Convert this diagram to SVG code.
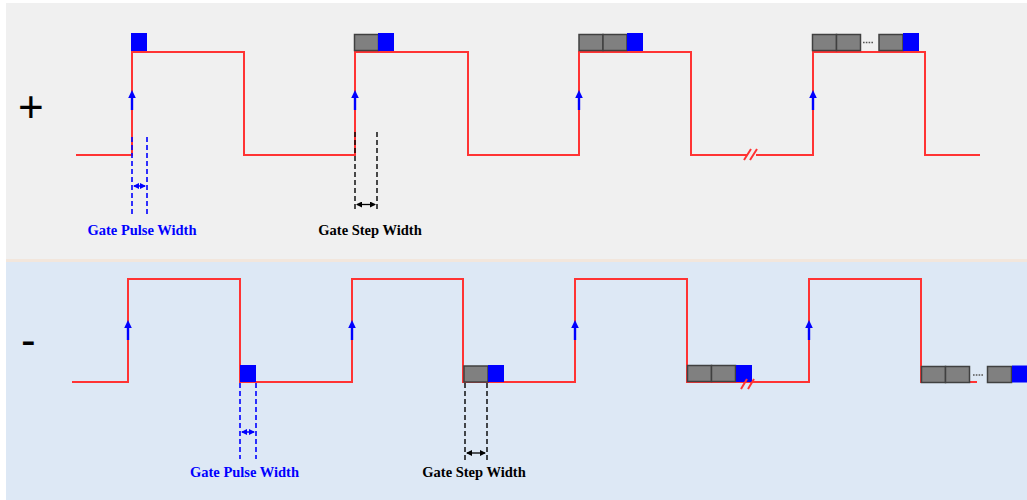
<svg xmlns="http://www.w3.org/2000/svg" width="1027" height="500" viewBox="0 0 1027 500">
<style>
.wave{fill:none;stroke:#ff3333;stroke-width:2}
.gray{fill:#808080;stroke:#404040;stroke-width:1.5}
.blue{fill:#0000ff}
.dashB{stroke:#0000ff;stroke-width:1.6;stroke-dasharray:5,3;fill:none}
.dashK{stroke:#000;stroke-width:1.4;stroke-dasharray:5,3;fill:none}
.lblB{font-family:"Liberation Serif",serif;font-weight:bold;font-size:14.5px;fill:#0000ff;text-anchor:middle}
.lblK{font-family:"Liberation Serif",serif;font-weight:bold;font-size:14.5px;fill:#000;text-anchor:middle}
.sign{font-family:"Liberation Sans",Arial,sans-serif;font-size:44px;fill:#000}
.dots{stroke:#555;stroke-width:1.5;stroke-dasharray:1.6,1.2}
</style>
<defs>
<marker id="dh" viewBox="0 0 6 6" refX="5" refY="3" markerWidth="6" markerHeight="6" markerUnits="userSpaceOnUse" orient="auto-start-reverse"><path d="M0,0 L6,3 L0,6 Z" fill="context-stroke"/></marker>
<g id="upArrow"><line x1="0" y1="20" x2="0" y2="6" stroke="#0000ff" stroke-width="2.4"/><path d="M-3.8,8 L0,0 L3.8,8 Z" fill="#0000ff"/></g>
</defs>
<rect x="0" y="0" width="1027" height="500" fill="#ffffff"/>
<rect x="6" y="3" width="1021" height="257" fill="#f0f0f0"/>
<rect x="6" y="259" width="1021" height="4" fill="#f2e6dc"/>
<rect x="6" y="262" width="1021" height="238" fill="#dde8f5"/>

<g id="plus-panel">
<text class="sign" x="18" y="122">+</text>
<g id="plus-wave">
<path class="wave" d="M76,155 H132 V52 H244 V155 H355 V52 H468 V155 H579 V52 H691 V155 H747 M756,155 H813 V52 H925 V155 H980"/>
<path d="M744,160 L751,149 M750,160 L757,149" stroke="#ff3333" stroke-width="2" fill="none"/>
</g>
<g id="plus-arrows">
<use href="#upArrow" x="132" y="90"/>
<use href="#upArrow" x="355" y="90"/>
<use href="#upArrow" x="579" y="90"/>
<use href="#upArrow" x="813" y="90"/>
</g>
<g id="plus-pulse1"><rect class="blue" x="131" y="33" width="16" height="18"/></g>
<g id="plus-pulse2"><rect class="gray" x="354.5" y="34.5" width="24" height="16"/><rect class="blue" x="378" y="33" width="16" height="18"/></g>
<g id="plus-pulse3"><rect class="gray" x="579" y="34.5" width="24" height="16"/><rect class="gray" x="603" y="34.5" width="24" height="16"/><rect class="blue" x="627" y="33" width="16" height="18"/></g>
<g id="plus-pulse4"><rect class="gray" x="812.5" y="34.5" width="24" height="16"/><rect class="gray" x="836.5" y="34.5" width="24" height="16"/><line class="dots" x1="863" y1="42.5" x2="874" y2="42.5"/><rect class="gray" x="879" y="34.5" width="24" height="16"/><rect class="blue" x="903" y="33" width="16" height="18"/></g>
<g id="plus-pulse-width">
<path class="dashB" d="M132,137 V214 M147,137 V214"/>
<line x1="134" y1="186" x2="145" y2="186" stroke="#0000ff" stroke-width="1.5" marker-start="url(#dh)" marker-end="url(#dh)"/>
<text class="lblB" x="142" y="235">Gate Pulse Width</text>
</g>
<g id="plus-step-width">
<path class="dashK" d="M355,132 V212 M377,132 V212"/>
<line x1="357" y1="204.5" x2="375" y2="204.5" stroke="#000" stroke-width="1.3" marker-start="url(#dh)" marker-end="url(#dh)"/>
<text class="lblK" x="370" y="235">Gate Step Width</text>
</g>
</g>

<g id="minus-panel">
<text class="sign" x="21" y="355">-</text>
<g id="minus-wave">
<path class="wave" d="M72,382 H128 V279 H240 V382 H352 V279 H463 V382 H575 V279 H687 V382 H809 V279 H921 V382 H977"/>
</g>
<g id="minus-arrows">
<use href="#upArrow" x="128" y="320"/>
<use href="#upArrow" x="352" y="320"/>
<use href="#upArrow" x="575" y="320"/>
<use href="#upArrow" x="809" y="320"/>
</g>
<g id="minus-pulse1"><rect class="blue" x="240" y="365" width="16" height="17"/></g>
<g id="minus-pulse2"><rect class="gray" x="464" y="366" width="24" height="16"/><rect class="blue" x="488" y="365" width="16" height="17"/></g>
<g id="minus-pulse3"><rect class="gray" x="687.5" y="365.5" width="24" height="16"/><rect class="gray" x="711.5" y="365.5" width="24" height="16"/><rect class="blue" x="736" y="365" width="16" height="17"/>
<path d="M741,389 L747,379 M748,389 L754,379" stroke="#ff3333" stroke-width="2" fill="none"/></g>
<g id="minus-pulse4"><rect class="gray" x="921.5" y="366.5" width="24" height="16"/><rect class="gray" x="945.5" y="366.5" width="24" height="16"/><line class="dots" x1="973" y1="375" x2="984" y2="375"/><rect class="gray" x="987.5" y="366.5" width="24" height="16"/><rect class="blue" x="1012" y="365.5" width="16" height="17"/></g>
<g id="minus-pulse-width">
<path class="dashB" d="M240,383 V459 M256,383 V459"/>
<line x1="242" y1="432" x2="254" y2="432" stroke="#0000ff" stroke-width="1.5" marker-start="url(#dh)" marker-end="url(#dh)"/>
<text class="lblB" x="244.5" y="477">Gate Pulse Width</text>
</g>
<g id="minus-step-width">
<path class="dashK" d="M465,383 V460 M487,383 V460"/>
<line x1="467" y1="453" x2="485" y2="453" stroke="#000" stroke-width="1.3" marker-start="url(#dh)" marker-end="url(#dh)"/>
<text class="lblK" x="474" y="477">Gate Step Width</text>
</g>
</g>
</svg>
